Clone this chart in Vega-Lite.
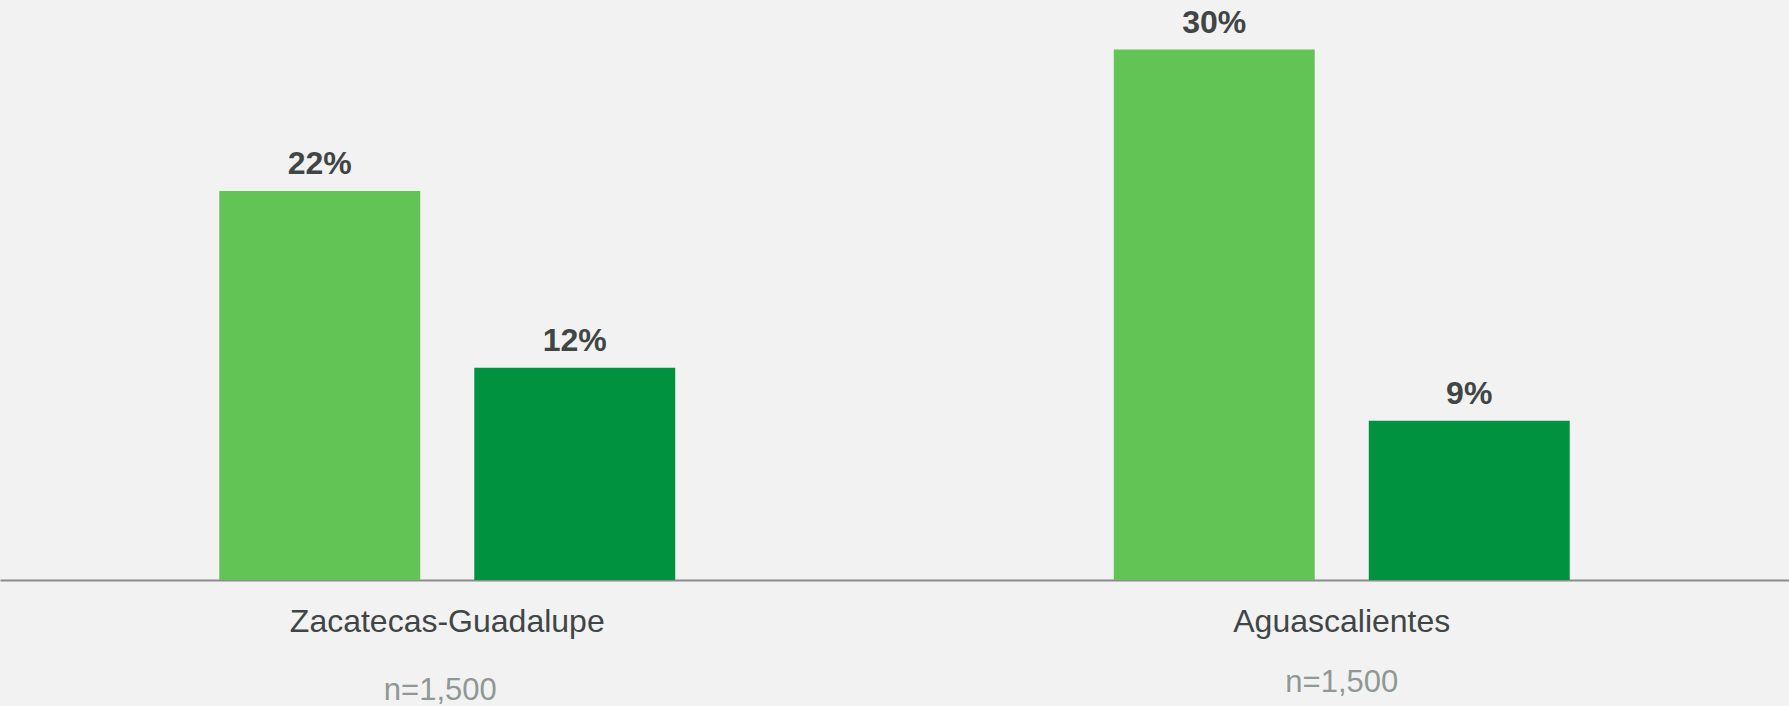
{
  "$schema": "https://vega.github.io/schema/vega-lite/v6.json",
  "width": 1789,
  "height": 580,
  "autosize": {"type": "none"},
  "padding": {"left": 0, "right": 0, "top": 0, "bottom": 126},
  "background": "#F2F2F2",
  "config": {"view": {"stroke": null}, "font": "Liberation Sans"},
  "datasets": {
    "bars": [
      {"region": "Zacatecas-Guadalupe", "serie": "Serie 1", "value": 0.22},
      {"region": "Zacatecas-Guadalupe", "serie": "Serie 2", "value": 0.12},
      {"region": "Aguascalientes", "serie": "Serie 1", "value": 0.30},
      {"region": "Aguascalientes", "serie": "Serie 2", "value": 0.09}
    ],
    "ns": [
      {"region": "Zacatecas-Guadalupe", "n": "n=1,500"},
      {"region": "Aguascalientes", "n": "n=1,500"}
    ]
  },
  "layer": [
    {
      "data": {"name": "bars"},
      "mark": {"type": "bar"},
      "encoding": {
        "x": {
          "field": "region", "type": "nominal", "sort": null,
          "scale": {"paddingInner": 0, "paddingOuter": 0},
          "axis": {"title": null, "ticks": false, "grid": false, "labelAngle": 0,
                   "domainColor": "#8C8C8C", "domainWidth": 2, "labelLimit": 0,
                   "labelFontSize": 32, "labelColor": "#404545", "labelFont": "Liberation Sans",
                   "labelPadding": 51, "labelBaseline": "alphabetic"}
        },
        "xOffset": {"field": "serie", "type": "nominal", "sort": null,
                    "scale": {"paddingInner": 0.212, "paddingOuter": 0.86}},
        "y": {"field": "value", "type": "quantitative",
              "scale": {"domain": [0, 0.328], "nice": false}, "axis": null},
        "color": {"field": "serie", "type": "nominal",
                  "scale": {"domain": ["Serie 1", "Serie 2"], "range": ["#62C454", "#00923F"]},
                  "legend": null}
      }
    },
    {
      "data": {"name": "bars"},
      "mark": {"type": "text", "baseline": "alphabetic", "dy": -17, "fontSize": 32,
               "fontWeight": "bold", "color": "#404545"},
      "encoding": {
        "x": {"field": "region", "type": "nominal", "sort": null},
        "xOffset": {"field": "serie", "type": "nominal", "sort": null},
        "y": {"field": "value", "type": "quantitative"},
        "text": {"field": "value", "type": "quantitative", "format": ".0%"}
      }
    },
    {
      "data": {"name": "ns"},
      "transform": [{"filter": "datum.region == 'Zacatecas-Guadalupe'"}],
      "mark": {"type": "text", "baseline": "alphabetic", "dy": 120, "dx": -7, "fontSize": 31, "color": "#8E9894"},
      "encoding": {
        "x": {"field": "region", "type": "nominal", "sort": null},
        "y": {"datum": 0, "type": "quantitative"},
        "text": {"field": "n"}
      }
    },
    {
      "data": {"name": "ns"},
      "transform": [{"filter": "datum.region == 'Aguascalientes'"}],
      "mark": {"type": "text", "baseline": "alphabetic", "dy": 112, "fontSize": 31, "color": "#8E9894"},
      "encoding": {
        "x": {"field": "region", "type": "nominal", "sort": null},
        "y": {"datum": 0, "type": "quantitative"},
        "text": {"field": "n"}
      }
    }
  ]
}
